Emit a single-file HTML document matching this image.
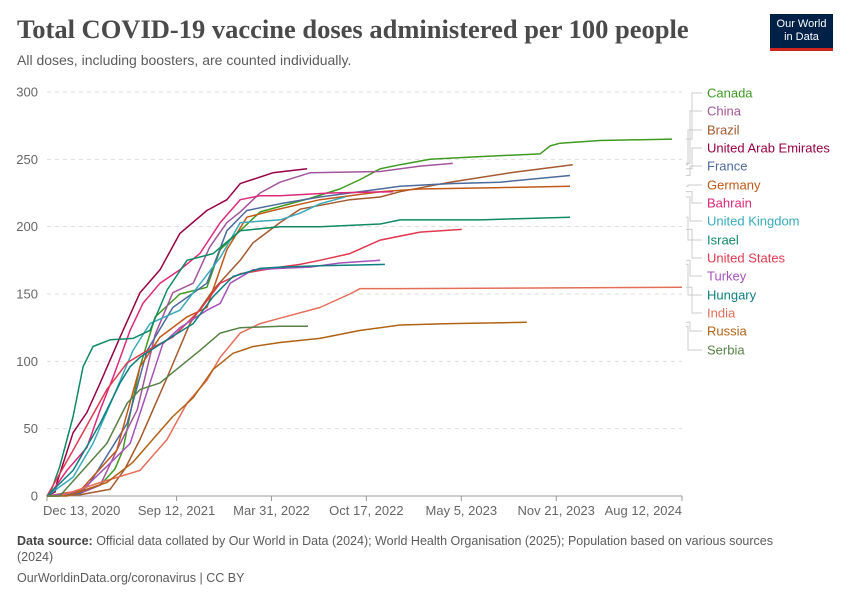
<!DOCTYPE html>
<html><head><meta charset="utf-8">
<style>
body{margin:0;background:#fff;width:850px;height:600px;overflow:hidden;font-family:"Liberation Sans",sans-serif;}
#title{position:absolute;left:17px;top:14px;font-family:"Liberation Serif",serif;font-weight:bold;font-size:26.5px;color:#4a4a4a;margin:0;}
#sub{position:absolute;left:17px;top:52px;font-size:14px;color:#5b5b5b;}
#logo{position:absolute;left:770px;top:14px;width:63px;height:37px;background:#002147;border-bottom:3px solid #ce261e;color:#fff;font-size:11px;line-height:13px;text-align:center;padding-top:4px;box-sizing:border-box;}
#foot{position:absolute;left:17px;top:533px;font-size:12.5px;color:#5b5b5b;line-height:16px;width:790px;}
#foot b{color:#444;}
#url{position:absolute;left:17px;top:571px;font-size:12.5px;color:#5b5b5b;}
svg{position:absolute;left:0;top:0;}
</style></head><body>
<h1 id="title">Total COVID-19 vaccine doses administered per 100 people</h1>
<div id="sub">All doses, including boosters, are counted individually.</div>
<div id="logo">Our World<br>in Data</div>
<svg id="chart" width="850" height="600"></svg>
<div id="foot"><b>Data source:</b> Official data collated by Our World in Data (2024); World Health Organisation (2025); Population based on various sources (2024)</div>
<div id="url">OurWorldinData.org/coronavirus | CC BY</div>
<script>
// x values: days since Dec 13, 2020
const countries=["Canada","China","Brazil","United Arab Emirates","France","Germany","Bahrain","United Kingdom","Israel","United States","Turkey","Hungary","India","Russia","Serbia"];
const colors=["#3f9a22","#a2559c","#a4592e","#970046","#4c6a9c","#c05917","#e0287b","#38aaba","#0f8a64","#e0394f","#a652ba","#0d7f80","#e56e5a","#b16214","#578145"];
const canadaDays=[0,48,112,143,160,181,196,228,280,337,365,407,449,491,554,617,660,702,744,807,912,1039,1060,1081,1165,1317];
const canadaVals=[0,1,8,20,34,71,96,133,150,155,183,197,211,215,221,228,235,243,246,250,252,254,260,262,264,265];
const chinaDays=[0,70,112,147,190,228,265,308,343,379,407,449,491,554,702,786,855];
const chinaVals=[0,2,8,34,64,120,151,158,185,203,211,225,233,240,241,245,247];
const brazilDays=[0,70,133,164,196,253,301,350,407,434,491,533,638,702,744,849,976,1108];
const brazilVals=[0,1,5,20,42,88,128,153,175,188,203,213,220,222,226,233,240,246];
const uaeDays=[0,17,21,55,84,112,154,196,238,280,337,379,407,476,548];
const uaeVals=[0,3,10,47,62,84,118,151,168,195,212,220,232,240,243];
const franceDays=[0,70,91,169,211,265,337,379,421,491,575,638,744,849,954,1102];
const franceVals=[0,2,10,54,108,140,158,197,212,217,222,225,230,232,233,238];
const germanyDays=[0,70,147,196,238,295,337,379,421,476,575,702,786,954,1102];
const germanyVals=[0,4,34,96,118,133,140,183,207,212,220,226,228,229,230];
const bahrainDays=[0,6,42,84,112,139,175,202,238,280,322,365,407,449,491,596,729];
const bahrainVals=[0,1,19,36,64,88,123,143,158,168,180,203,220,223,223,225,226];
const ukDays=[0,55,97,139,181,217,280,308,365,407,491,533,575,628];
const ukVals=[0,14,39,73,108,128,138,151,177,203,205,210,217,222];
const israelDays=[0,6,27,55,76,97,133,181,217,253,295,350,407,491,575,702,744,912,1102];
const israelVals=[0,1,22,59,96,111,116,117,123,153,175,180,197,200,200,202,205,205,207];
const usDays=[0,55,126,169,211,265,322,365,407,491,533,575,638,702,786,874];
const usVals=[0,34,79,99,108,118,138,158,165,170,172,175,180,190,196,198];
const turkeyDays=[0,70,126,175,217,244,280,337,365,386,434,491,554,617,702];
const turkeyVals=[0,3,22,39,84,113,125,138,143,158,168,169,170,173,175];
const hungaryDays=[0,55,112,154,175,196,253,308,350,392,449,491,575,712];
const hungaryVals=[0,19,54,84,96,103,116,128,148,163,169,170,171,172];
const indiaDays=[0,27,112,196,253,295,337,365,407,449,491,575,638,660,744,1338];
const indiaVals=[0,0,10,19,42,69,86,103,121,128,132,140,150,154,154,155];
const russiaDays=[0,42,126,181,223,265,308,350,392,434,491,575,660,744,849,1011];
const russiaVals=[0,0,10,25,42,59,73,94,106,111,114,117,123,127,128,129];
const serbiaDays=[0,27,70,126,169,196,238,280,322,365,407,491,550];
const serbiaVals=[0,0,17,39,69,79,84,96,108,121,125,126,126];
const seriesDays=[canadaDays,chinaDays,brazilDays,uaeDays,franceDays,germanyDays,bahrainDays,ukDays,israelDays,usDays,turkeyDays,hungaryDays,indiaDays,russiaDays,serbiaDays];
const seriesVals=[canadaVals,chinaVals,brazilVals,uaeVals,franceVals,germanyVals,bahrainVals,ukVals,israelVals,usVals,turkeyVals,hungaryVals,indiaVals,russiaVals,serbiaVals];
const yTicks=[0,50,100,150,200,250,300];
const xTickLabels=["Dec 13, 2020","Sep 12, 2021","Mar 31, 2022","Oct 17, 2022","May 5, 2023","Nov 21, 2023","Aug 12, 2024"];
const xTickDays=[0,273,473,673,873,1073,1338];

const X0=47,X1=682,Y0=496,Y1=92,DMAX=1338,VMAX=300;
const sx=d=>X0+(d/DMAX)*(X1-X0);
const sy=v=>Y0-(v/VMAX)*(Y0-Y1);
const svg=document.getElementById('chart');
const NS='http://www.w3.org/2000/svg';
function mk(tag,attrs){const e=document.createElementNS(NS,tag);for(const k in attrs)e.setAttribute(k,attrs[k]);svg.appendChild(e);return e;}

yTicks.forEach(t=>{
  if(t>0){const g=mk('line',{x1:X0,x2:X1,y1:sy(t),y2:sy(t),stroke:'#ddd','stroke-dasharray':'4,4'});
  
  }
  const l=mk('text',{x:38,y:sy(t)+4.5,'text-anchor':'end','font-size':13,fill:'#666'});
  l.textContent=t;
  
  
});
const ax=mk('line',{x1:X0,x2:X1,y1:Y0,y2:Y0,stroke:'#999'});


xTickDays.forEach((d,i)=>{
  const x=sx(d);
  const tk=mk('line',{x1:x,x2:x,y1:Y0,y2:Y0+5,stroke:'#999'});
  
  
  const anchor=i===0?'start':(i===xTickDays.length-1?'end':'middle');
  const tx=i===0?x-4:x;
  const l=mk('text',{x:tx,y:515,'text-anchor':anchor,'font-size':13,fill:'#666'});
  l.textContent=xTickLabels[i];
  
  
});
const labelY=[93,111,130,148,166,185,203,221,240,258,276,295,313,331,350];
countries.forEach((c,i)=>{
  const ds=seriesDays[i],vs=seriesVals[i];
  const pts=ds.map((d,j)=>sx(d).toFixed(1)+','+sy(vs[j]).toFixed(1)).join(' ');
  const p=mk('polyline',{points:pts,fill:'none',stroke:colors[i],'stroke-width':1.5,'stroke-linejoin':'round'});
  
  
  const ey=sy(vs[vs.length-1]);
  const con=mk('polyline',{points:`686,${ey} ${692-i%3*2},${ey} ${692-i%3*2},${labelY[i]} 702,${labelY[i]}`,fill:'none',stroke:'#ccc','stroke-width':1});
  
  
  const t=mk('text',{x:707,y:labelY[i]+4.5,'font-size':13,fill:colors[i]});
  t.textContent=c;
  
  
});
</script>
</body></html>
